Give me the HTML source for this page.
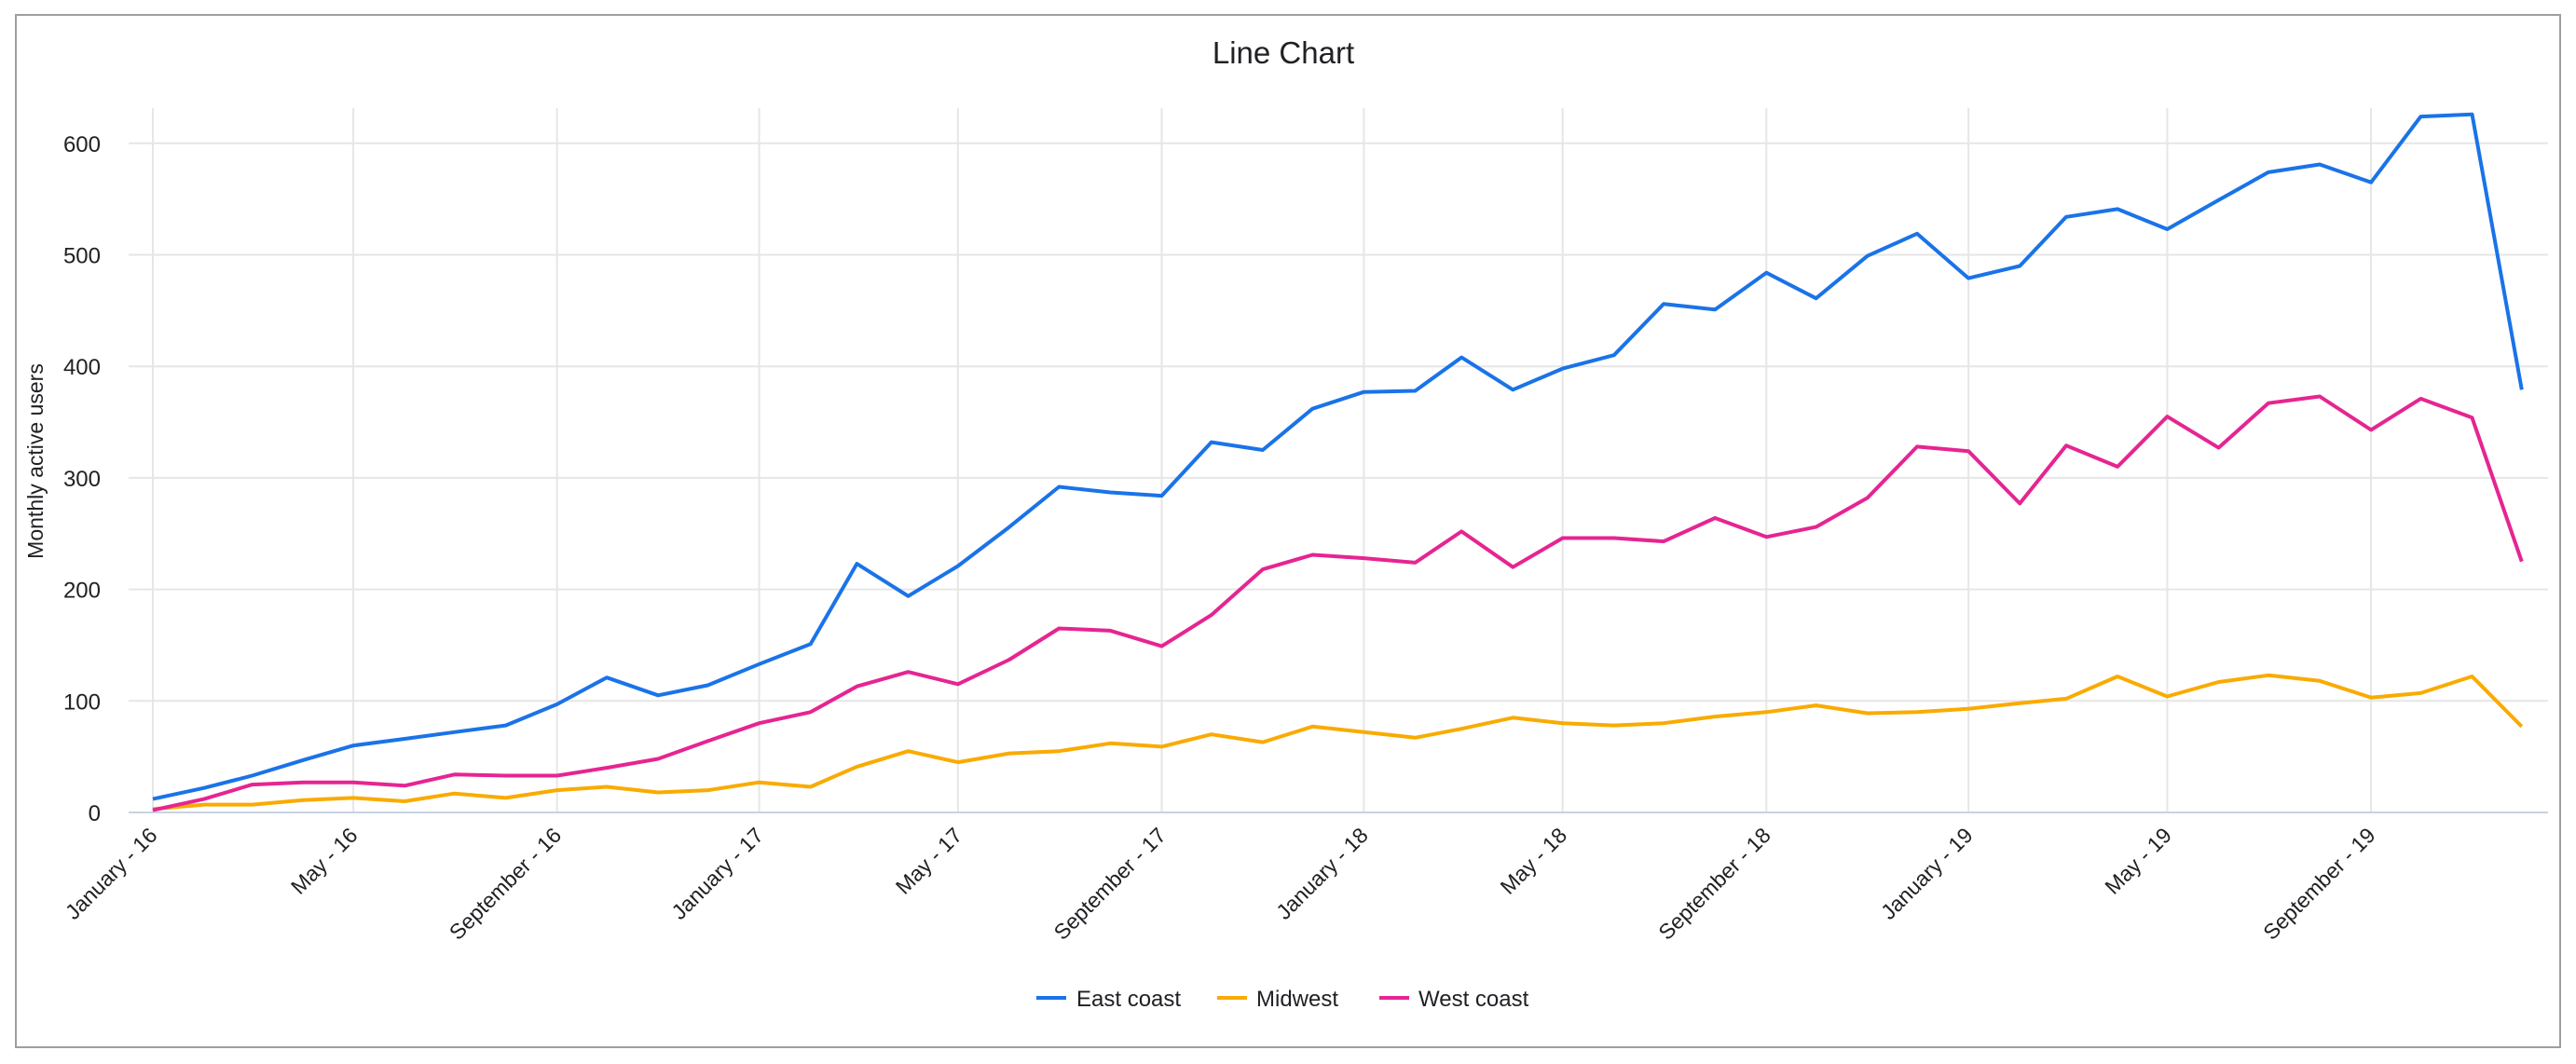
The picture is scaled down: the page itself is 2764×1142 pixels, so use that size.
<!DOCTYPE html>
<html><head><meta charset="utf-8"><style>
html,body{margin:0;padding:0;background:#fff;}
svg{display:block;font-family:"Liberation Sans",sans-serif;}
</style></head><body>
<svg id="s" width="2764" height="1142" viewBox="0 0 2764 1142" xmlns="http://www.w3.org/2000/svg">
<rect x="0" y="0" width="2764" height="1142" fill="#fff"/>
<rect x="17" y="16" width="2730" height="1108" fill="#fff" stroke="#9e9e9e" stroke-width="2"/>
<text x="1377" y="68" font-size="33" fill="#202124" text-anchor="middle">Line Chart</text>
<g id="grid"></g>
<text transform="translate(46,495) rotate(-90)" font-size="23" fill="#202124" text-anchor="middle">Monthly active users</text>
<g id="lines"></g>
<g font-size="24" fill="#202124">
<line x1="1112" y1="1071" x2="1144" y2="1071" stroke="#1a73e8" stroke-width="4"/>
<text x="1155" y="1080">East coast</text>
<line x1="1306" y1="1071" x2="1338" y2="1071" stroke="#f9ab00" stroke-width="4"/>
<text x="1348" y="1080">Midwest</text>
<line x1="1480" y1="1071" x2="1512" y2="1071" stroke="#e52592" stroke-width="4"/>
<text x="1522" y="1080">West coast</text>
</g>
</svg>
<script>
var NS="http://www.w3.org/2000/svg";
function el(t,a,p,txt){var e=document.createElementNS(NS,t);for(var k in a)e.setAttribute(k,a[k]);if(txt!==undefined)e.textContent=txt;p.appendChild(e);return e;}
var g=document.getElementById('grid'),L=document.getElementById('lines');
var y0=872,k=1.197;function Y(v){return y0-v*k;}
var t0=Date.UTC(2016,0,1);function X(yr,m){return 164+(Date.UTC(yr,m,1)-t0)/86400000*1.7775;}
for(var v=100;v<=600;v+=100){el('line',{x1:138,x2:2734,y1:Y(v),y2:Y(v),stroke:'#e6e6e6','stroke-width':2},g);}
for(var v=0;v<=600;v+=100){el('text',{x:108,y:Y(v)+9,'font-size':24,fill:'#202124','text-anchor':'end'},g,String(v));}
var names=['January','May','September'];
for(var yr=2016;yr<=2019;yr++)for(var i=0;i<3;i++){var x=X(yr,i*4);
el('line',{x1:x,x2:x,y1:116,y2:872,stroke:'#e6e6e6','stroke-width':2},g);
el('text',{transform:'translate('+(x+6)+',898) rotate(-45)','font-size':23,fill:'#202124','text-anchor':'end'},g,names[i]+' - '+String(yr).slice(2));}
el('line',{x1:138,x2:2734,y1:872,y2:872,stroke:'#c9d2e3','stroke-width':2},g);
var east=[12,22,33,47,60,66,72,78,97,121,105,114,133,151,223,194,221,256,292,287,284,332,325,362,377,378,408,379,398,410,456,451,484,461,499,519,479,490,534,541,523,549,574,581,565,624,626,379];
var mid=[3,7,7,11,13,10,17,13,20,23,18,20,27,23,41,55,45,53,55,62,59,70,63,77,72,67,75,85,80,78,80,86,90,96,89,90,93,98,102,122,104,117,123,118,103,107,122,77];
var west=[2,12,25,27,27,24,34,33,33,40,48,64,80,90,113,126,115,137,165,163,149,177,218,231,228,224,252,220,246,246,243,264,247,256,282,328,324,277,329,310,355,327,367,373,343,371,354,225];
function draw(d,c){var p=[];for(var i=0;i<d.length;i++){p.push(X(2016+Math.floor(i/12),i%12).toFixed(1)+','+Y(d[i]).toFixed(1));}
el('polyline',{points:p.join(' '),fill:'none',stroke:c,'stroke-width':4,'stroke-linejoin':'round'},L);}
draw(mid,'#f9ab00');draw(west,'#e52592');draw(east,'#1a73e8');
</script>
</body></html>
